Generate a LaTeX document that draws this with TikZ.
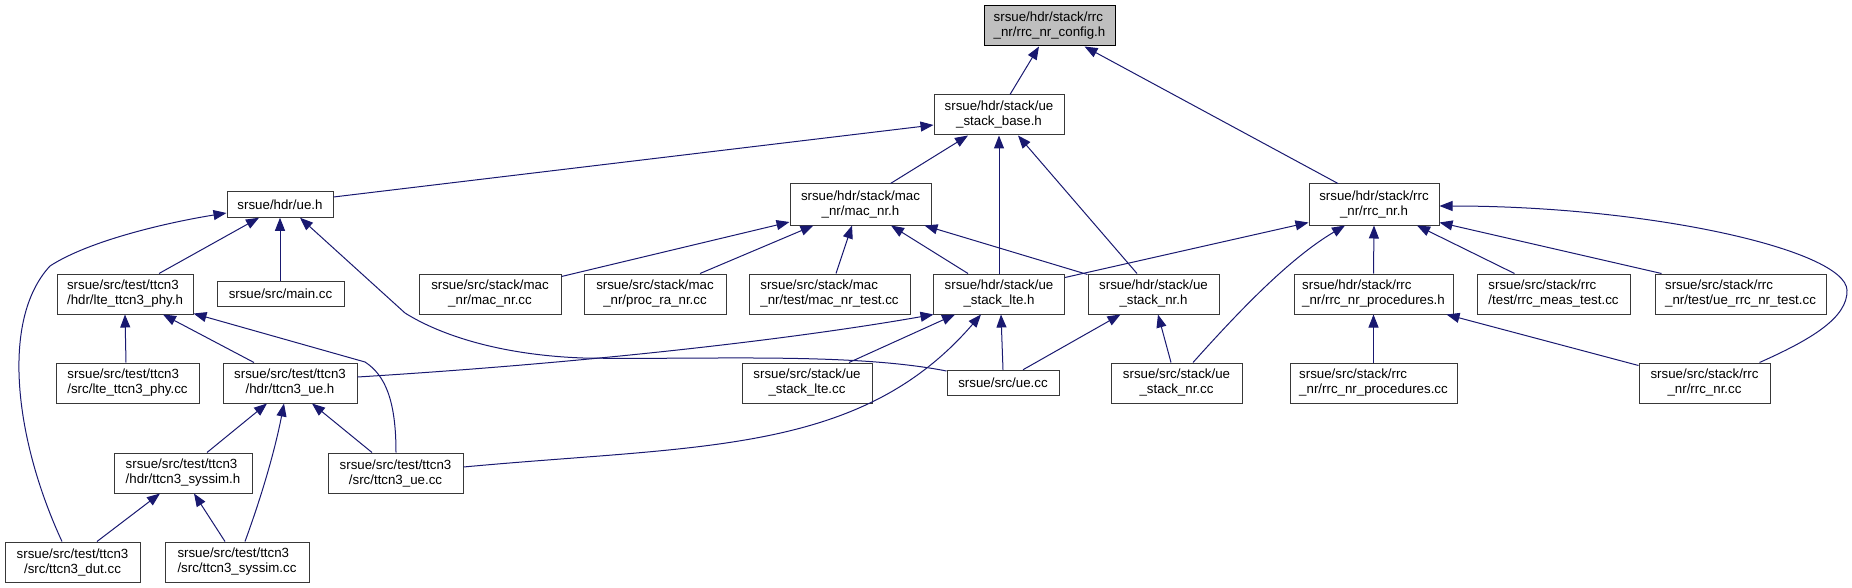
\documentclass[tikz,border=0pt]{standalone}
\usepackage{fontspec}
\setmainfont{Liberation Sans}
\usetikzlibrary{arrows.meta}
\definecolor{mblue}{HTML}{191970}
\definecolor{cfg}{HTML}{BFBFBF}
\newcommand{\fsz}{\fontsize{13.3}{15}\selectfont}
\tikzset{
  box/.style={draw=black!78, fill=white, line width=1pt, inner sep=0pt, font=\fsz, align=center, minimum height=40pt},
  lbox/.style={box, align=left},
  sbox/.style={box, minimum height=25.5pt},
  edge/.style={draw=mblue, line width=1pt, -{Triangle[length=13pt,width=10pt]}},
}
\begin{document}
\begin{tikzpicture}[x=1pt,y=-1pt]
\useasboundingbox (0,0) rectangle (1852,588);
% nodes
\node[lbox, fill=cfg, draw=black, minimum width=131pt] (config) at (1049.5,26) {srsue/hdr/stack/rrc\\\_nr/rrc\_nr\_config.h};
\node[box, minimum width=130pt] (base) at (999,115) {srsue/hdr/stack/ue\\\_stack\_base.h};
\node[sbox, minimum width=106pt] (ueh) at (280,204.5) {srsue/hdr/ue.h};
\node[box, minimum width=141pt, minimum height=41pt] (macnrh) at (860.5,204.5) {srsue/hdr/stack/mac\\\_nr/mac\_nr.h};
\node[box, minimum width=130pt, minimum height=41pt] (rrcnrh) at (1374,204.5) {srsue/hdr/stack/rrc\\\_nr/rrc\_nr.h};
\node[lbox, minimum width=136pt] (ltephyh) at (125,294) {srsue/src/test/ttcn3\\/hdr/lte\_ttcn3\_phy.h};
\node[sbox, minimum width=127pt] (maincc) at (280.5,294) {srsue/src/main.cc};
\node[box, minimum width=142pt] (macnrcc) at (490,294) {srsue/src/stack/mac\\\_nr/mac\_nr.cc};
\node[box, minimum width=142pt] (procra) at (655,294) {srsue/src/stack/mac\\\_nr/proc\_ra\_nr.cc};
\node[lbox, minimum width=161pt] (macnrtest) at (829.5,294) {srsue/src/stack/mac\\\_nr/test/mac\_nr\_test.cc};
\node[box, minimum width=131pt] (stacklteh) at (999,294) {srsue/hdr/stack/ue\\\_stack\_lte.h};
\node[box, minimum width=131pt] (stacknrh) at (1153.5,294) {srsue/hdr/stack/ue\\\_stack\_nr.h};
\node[lbox, minimum width=159pt] (rrcproch) at (1373.5,294) {srsue/hdr/stack/rrc\\\_nr/rrc\_nr\_procedures.h};
\node[lbox, minimum width=153pt] (rrcmeas) at (1553.5,294) {srsue/src/stack/rrc\\/test/rrc\_meas\_test.cc};
\node[lbox, minimum width=171pt] (uerrctest) at (1740.5,294) {srsue/src/stack/rrc\\\_nr/test/ue\_rrc\_nr\_test.cc};
\node[lbox, minimum width=143pt] (ltephycc) at (127.5,383) {srsue/src/test/ttcn3\\/src/lte\_ttcn3\_phy.cc};
\node[box, minimum width=134pt] (ttcn3ueh) at (290,383) {srsue/src/test/ttcn3\\/hdr/ttcn3\_ue.h};
\node[box, minimum width=130pt] (stackltecc) at (807,383) {srsue/src/stack/ue\\\_stack\_lte.cc};
\node[sbox, minimum width=112pt] (uecc) at (1003,383) {srsue/src/ue.cc};
\node[box, minimum width=131pt] (stacknrcc) at (1176.5,383) {srsue/src/stack/ue\\\_stack\_nr.cc};
\node[lbox, minimum width=167pt] (rrcproccc) at (1373.5,383) {srsue/src/stack/rrc\\\_nr/rrc\_nr\_procedures.cc};
\node[box, minimum width=131pt] (rrcnrcc) at (1704.5,383) {srsue/src/stack/rrc\\\_nr/rrc\_nr.cc};
\node[lbox, minimum width=138pt] (syssimh) at (183,473) {srsue/src/test/ttcn3\\/hdr/ttcn3\_syssim.h};
\node[box, minimum width=135pt] (ttcn3uecc) at (395.5,473) {srsue/src/test/ttcn3\\/src/ttcn3\_ue.cc};
\node[box, minimum width=135pt] (dutcc) at (72.5,562) {srsue/src/test/ttcn3\\/src/ttcn3\_dut.cc};
\node[lbox, minimum width=144pt] (syssimcc) at (237,562) {srsue/src/test/ttcn3\\/src/ttcn3\_syssim.cc};
% edges (arrow at the included header)
\draw[edge] ([xshift=11pt]base.north) -- ([xshift=-10.5pt]config.south);
\draw[edge] ([xshift=-36pt]rrcnrh.north) -- ([xshift=35pt]config.south);
\draw[edge] ([yshift=7.5pt]ueh.east) -- ([yshift=-10pt]base.west);
\draw[edge] ([xshift=30pt]macnrh.north) -- ([xshift=-31pt]base.south);
\draw[edge] (stacklteh.north) -- (base.south);
\draw[edge] ([xshift=-16.5pt]stacknrh.north) -- ([xshift=19pt]base.south);
\draw[edge] ([xshift=34pt]ltephyh.north) -- ([xshift=-21pt]ueh.south);
\draw[edge] ([xshift=-0.5pt]maincc.north) -- (ueh.south);
\draw[edge] ([yshift=12pt]uecc.west) .. controls (850,352) and (700,360) .. (583,358) .. controls (500,355) and (440,335) .. (405,313) -- ([xshift=20pt]ueh.south);
\draw[edge] ([xshift=-10.5pt]dutcc.north) .. controls (15,440) and (0,320) .. (50,266) .. controls (90,240) and (170,222) .. ([yshift=-8.5pt]ueh.west);
\draw[edge] ([yshift=-3pt]macnrcc.north east) -- ([yshift=-17.5pt]macnrh.west);
\draw[edge] ([xshift=45pt]procra.north) -- ([xshift=-47pt]macnrh.south);
\draw[edge] ([xshift=6.5pt]macnrtest.north) -- ([xshift=-8.5pt]macnrh.south);
\draw[edge] ([xshift=-31pt]stacklteh.north) -- ([xshift=30.5pt]macnrh.south);
\draw[edge] ([yshift=-1pt]stacknrh.north west) -- ([xshift=-7pt]macnrh.south east);
\draw[edge] ([yshift=-4pt]stacklteh.north east) -- ([yshift=3pt]rrcnrh.south west);
\draw[edge] ([xshift=16.5pt]stacknrcc.north) .. controls (1240,310) and (1290,258) .. ([xshift=-29pt]rrcnrh.south);
\draw[edge] (rrcproch.north) -- (rrcnrh.south);
\draw[edge] ([xshift=-39pt]rrcmeas.north) -- ([xshift=43pt]rrcnrh.south);
\draw[edge] ([xshift=-79pt]uerrctest.north) -- ([yshift=3pt]rrcnrh.south east);
\draw[edge] ([xshift=55pt]rrcnrcc.north) .. controls (1810,340) and (1848,318) .. (1847,290) .. controls (1845,250) and (1650,206) .. ([yshift=-1.5pt]rrcnrh.east);
\draw[edge] (rrcproccc.north) -- (rrcproch.south);
\draw[edge] ([yshift=-3pt]rrcnrcc.north west) -- ([xshift=-7pt]rrcproch.south east);
\draw[edge] ([xshift=-1.5pt]ltephycc.north) -- (ltephyh.south);
\draw[edge] ([xshift=-36pt]ttcn3ueh.north) -- ([xshift=38pt]ltephyh.south);
\draw[edge] ([xshift=0.5pt]ttcn3uecc.north) .. controls (396,400) and (385,375) .. (365,362) -- ([yshift=1pt]ltephyh.south east);
\draw[edge] ([yshift=6pt]ttcn3ueh.east) .. controls (600,362) and (800,338) .. ([xshift=0.5pt]stacklteh.south west);
\draw[edge] ([xshift=42pt]stackltecc.north) -- ([xshift=-44pt]stacklteh.south);
\draw[edge] (uecc.north) -- ([xshift=2pt]stacklteh.south);
\draw[edge] ([yshift=6pt]ttcn3uecc.east) .. controls (700,445) and (860,455) .. ([xshift=-18pt]stacklteh.south);
\draw[edge] ([xshift=20pt]uecc.north) -- ([xshift=-33pt]stacknrh.south);
\draw[edge] ([xshift=-5.5pt]stacknrcc.north) -- ([xshift=4.5pt]stacknrh.south);
\draw[edge] ([xshift=24pt]syssimh.north) -- ([xshift=-23pt]ttcn3ueh.south);
\draw[edge] ([xshift=8pt]syssimcc.north) .. controls (262,495) and (275,450) .. ([xshift=-6pt]ttcn3ueh.south);
\draw[edge] ([xshift=-23.5pt]ttcn3uecc.north) -- ([xshift=22pt]ttcn3ueh.south);
\draw[edge] ([xshift=24.5pt]dutcc.north) -- ([xshift=-23pt]syssimh.south);
\draw[edge] ([xshift=-12pt]syssimcc.north) -- ([xshift=11pt]syssimh.south);
\end{tikzpicture}
\end{document}
